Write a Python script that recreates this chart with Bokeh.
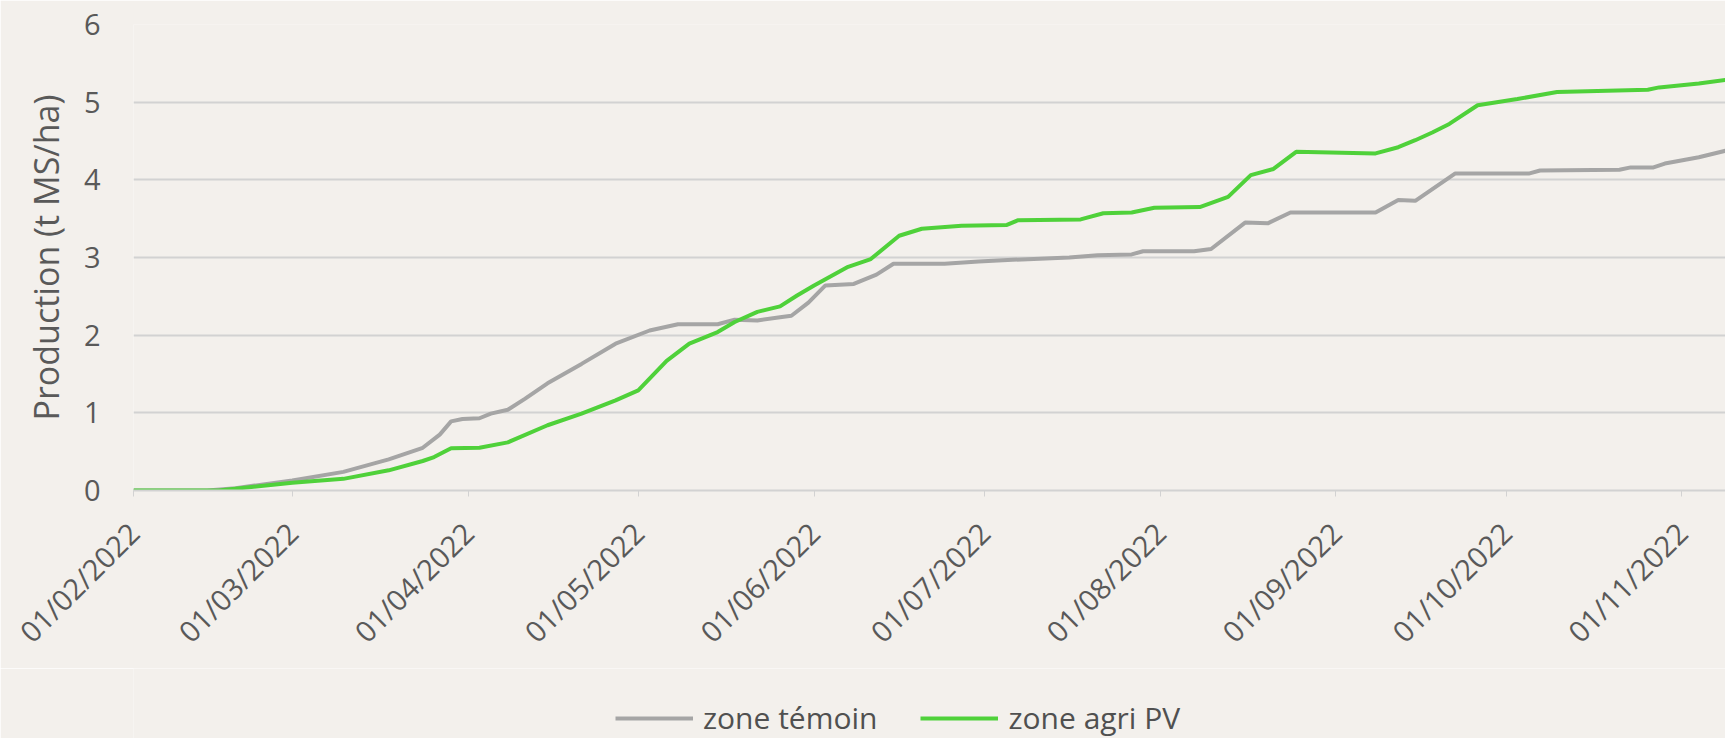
import math
from datetime import datetime, timedelta

from bokeh.plotting import figure
from bokeh.layouts import column
from bokeh.models import (Legend, LegendItem, FixedTicker, DatetimeTickFormatter,
                          Range1d)
from bokeh.embed import file_html
from bokeh.resources import INLINE

# ---------------- data ----------------
series_names = ["zone témoin", "zone agri PV"]

temoin_dates = [
    "2022-02-01", "2022-02-14", "2022-02-19", "2022-03-01", "2022-03-10",
    "2022-03-18", "2022-03-24", "2022-03-27", "2022-03-29", "2022-03-31",
    "2022-04-03", "2022-04-05", "2022-04-08", "2022-04-11", "2022-04-15",
    "2022-04-21", "2022-04-27", "2022-05-03", "2022-05-08", "2022-05-15",
    "2022-05-18", "2022-05-22", "2022-05-26", "2022-05-28", "2022-05-31",
    "2022-06-03", "2022-06-08", "2022-06-12", "2022-06-15", "2022-06-24",
    "2022-06-30", "2022-07-06", "2022-07-16", "2022-07-21", "2022-07-27",
    "2022-07-29", "2022-08-07", "2022-08-10", "2022-08-16", "2022-08-20",
    "2022-08-24", "2022-09-08", "2022-09-12", "2022-09-15", "2022-09-22",
    "2022-10-05", "2022-10-07", "2022-10-21", "2022-10-23", "2022-10-27",
    "2022-10-29", "2022-11-04", "2022-11-09",
]
temoin_values = [
    0.00, 0.00, 0.03, 0.13, 0.24,
    0.40, 0.55, 0.72, 0.89, 0.92,
    0.93, 0.99, 1.04, 1.18, 1.38,
    1.63, 1.89, 2.06, 2.14, 2.14,
    2.20, 2.19, 2.23, 2.25, 2.42,
    2.64, 2.66, 2.78, 2.92, 2.92,
    2.95, 2.97, 3.00, 3.03, 3.04,
    3.08, 3.08, 3.11, 3.45, 3.44,
    3.58, 3.58, 3.74, 3.73, 4.08,
    4.08, 4.12, 4.13, 4.16, 4.16,
    4.21, 4.29, 4.38,
]

agripv_dates = [
    "2022-02-01", "2022-02-16", "2022-02-21", "2022-03-01", "2022-03-10",
    "2022-03-18", "2022-03-24", "2022-03-26", "2022-03-29", "2022-04-03",
    "2022-04-08", "2022-04-15", "2022-04-21", "2022-04-27", "2022-05-01",
    "2022-05-06", "2022-05-10", "2022-05-15", "2022-05-18", "2022-05-22",
    "2022-05-26", "2022-05-29", "2022-06-01", "2022-06-07", "2022-06-11",
    "2022-06-16", "2022-06-20", "2022-06-27", "2022-07-05", "2022-07-07",
    "2022-07-18", "2022-07-22", "2022-07-27", "2022-07-31", "2022-08-08",
    "2022-08-13", "2022-08-17", "2022-08-21", "2022-08-25", "2022-09-08",
    "2022-09-12", "2022-09-15", "2022-09-18", "2022-09-21", "2022-09-26",
    "2022-10-03", "2022-10-10", "2022-10-26", "2022-10-28", "2022-11-04",
    "2022-11-09",
]
agripv_values = [
    0.00, 0.00, 0.04, 0.10, 0.15,
    0.26, 0.38, 0.43, 0.545, 0.55,
    0.62, 0.84, 0.99, 1.16, 1.29,
    1.67, 1.89, 2.04, 2.17, 2.30,
    2.37, 2.51, 2.64, 2.88, 2.98,
    3.28, 3.37, 3.41, 3.42, 3.48,
    3.49, 3.57, 3.58, 3.64, 3.65,
    3.78, 4.06, 4.14, 4.36, 4.34,
    4.42, 4.51, 4.61, 4.72, 4.96,
    5.04, 5.13, 5.16, 5.19, 5.24,
    5.29,
]

month_ticks = [
    "2022-02-01", "2022-03-01", "2022-04-01", "2022-05-01", "2022-06-01",
    "2022-07-01", "2022-08-01", "2022-09-01", "2022-10-01", "2022-11-01",
]
y_ticks = [0, 1, 2, 3, 4, 5, 6]
y_title = "Production (t MS/ha)"

# ---------------- styling ----------------
BG = "#f3f0ec"
TXT = "#595959"
GRID = "#d2d2d2"
GRAY = "#a5a5a5"
GREEN = "#4fd13a"
FONT = "Open Sans"
W = 1725
MAIN_H = 668
LEG_H = 70


def to_dt(s):
    return datetime.strptime(s, "%Y-%m-%d")


x_start = to_dt(month_ticks[0])
x_end = x_start + timedelta(days=280.7)

p = figure(width=W, height=MAIN_H, x_axis_type="datetime",
           x_range=Range1d(x_start, x_end), y_range=Range1d(0, 6),
           output_backend="svg", toolbar_location=None,
           min_border_left=133, min_border_right=0,
           min_border_top=24, min_border_bottom=MAIN_H - 490)

p.background_fill_color = BG
p.border_fill_color = BG
p.outline_line_color = None

# grid
p.xgrid.grid_line_color = None
p.ygrid.ticker = FixedTicker(ticks=y_ticks)
p.ygrid.grid_line_color = GRID
p.ygrid.grid_line_width = 2

# y axis
yax = p.yaxis[0]
yax.ticker = FixedTicker(ticks=y_ticks)
yax.axis_line_color = None
yax.major_tick_line_color = None
yax.major_tick_out = 0
yax.major_tick_in = 0
yax.minor_tick_line_color = None
yax.major_label_text_font = FONT
yax.major_label_text_font_size = "29px"
yax.major_label_text_color = TXT
yax.major_label_standoff = 33
yax.axis_label = y_title
yax.axis_label_text_font = FONT
yax.axis_label_text_font_size = "34px"
yax.axis_label_text_font_style = "normal"
yax.axis_label_text_color = TXT
yax.axis_label_standoff = 12

# x axis
xax = p.xaxis[0]
xax.ticker = FixedTicker(ticks=[to_dt(s).timestamp() * 1000 for s in month_ticks])
fmt = "%d/%m/%Y"
xax.formatter = DatetimeTickFormatter(days=fmt, months=fmt, years=fmt,
                                      hours=fmt, minutes=fmt, seconds=fmt)
xax.major_label_orientation = math.pi / 4
xax.major_label_text_font = FONT
xax.major_label_text_font_size = "29px"
xax.major_label_text_color = TXT
xax.major_label_standoff = 31
xax.axis_line_color = GRID
xax.axis_line_width = 2
xax.major_tick_line_color = GRID
xax.major_tick_out = 6
xax.major_tick_in = 0
xax.minor_tick_line_color = None

# lines
p.line(x=[to_dt(s) for s in temoin_dates], y=temoin_values,
       line_color=GRAY, line_width=4)
p.line(x=[to_dt(s) for s in agripv_dates], y=agripv_values,
       line_color=GREEN, line_width=4)

# ---------------- legend strip (frame aligned with the main plot) ----------------
lf = figure(width=W, height=LEG_H, x_range=Range1d(0, 1), y_range=Range1d(0, 1),
            output_backend="svg", toolbar_location=None,
            min_border_left=0, min_border_right=0,
            min_border_top=0, min_border_bottom=0)
lf.axis.visible = False
lf.grid.visible = False
lf.outline_line_color = None
lf.background_fill_color = BG
lf.border_fill_color = BG
nan = float("nan")
g1 = lf.line(x=[nan], y=[nan], line_color=GRAY, line_width=4)
g2 = lf.line(x=[nan], y=[nan], line_color=GREEN, line_width=4)

legend = Legend(items=[LegendItem(label=series_names[0], renderers=[g1]),
                       LegendItem(label=series_names[1], renderers=[g2])],
                location=(482, 0), orientation="horizontal",
                glyph_width=78, glyph_height=30, label_height=30,
                label_standoff=10, spacing=43, padding=0, margin=0,
                label_text_font=FONT, label_text_font_size="30px",
                label_text_color="#505050",
                background_fill_alpha=0, border_line_alpha=0)
lf.add_layout(legend)

layout = column(p, lf, spacing=0)

html = file_html(layout, INLINE)
html = html.replace("<body>", '<body style="background:%s">' % BG, 1)
open("out.html", "w").write(html)
